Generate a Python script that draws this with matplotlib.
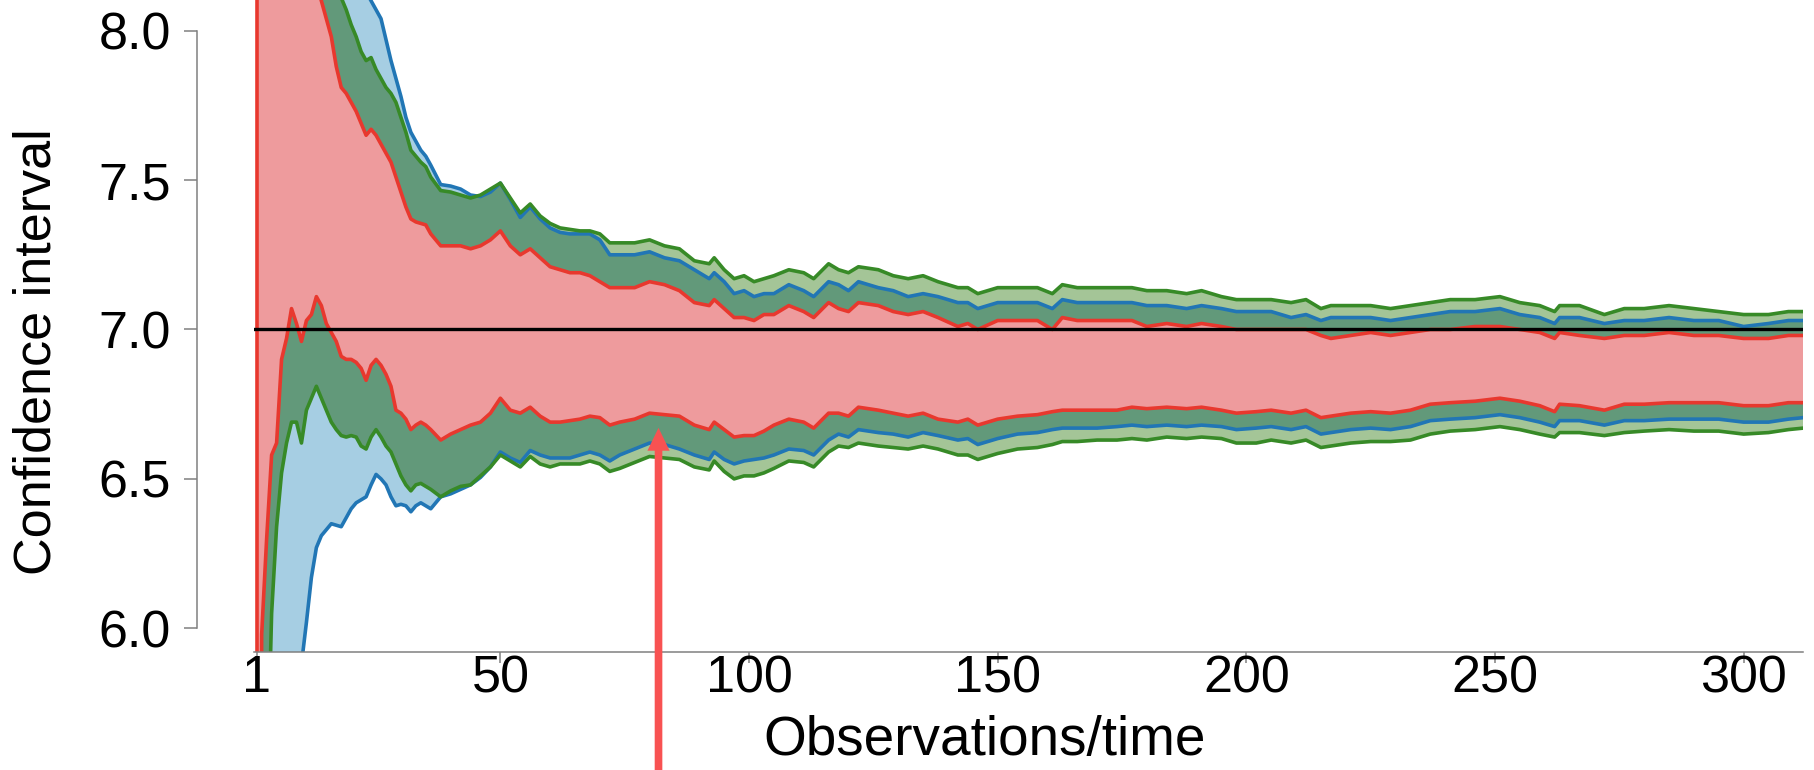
import numpy as np
import matplotlib
matplotlib.use("Agg")
import matplotlib.pyplot as plt
import matplotlib.transforms as mtransforms

plt.rcParams['font.family'] = ['Liberation Sans', 'DejaVu Sans']

# ---------------- data ----------------
t = [1, 2, 3, 4, 5, 6, 7, 8, 9, 10, 11, 12, 13, 14, 15, 16, 17, 18, 19, 20,
     21, 22, 23, 24, 25, 26, 27, 28, 29, 30, 31, 32, 33, 34, 35, 36,
     38, 40, 42, 44, 46, 48, 50, 52, 54, 56, 58, 60, 62, 64, 66, 68, 70, 72, 74,
     77, 80, 83, 86, 89, 92, 93, 95, 97, 99, 101, 103, 105,
     108, 111, 113, 116, 118, 120, 122, 126, 129, 132, 135, 138, 142, 144, 146,
     150, 154, 158, 161, 163, 166, 170, 174, 177, 180, 184, 188, 191, 195, 198,
     202, 205, 209, 212, 215, 217, 221, 225, 229, 233, 237, 241, 246, 251, 255,
     259, 262, 263, 267, 272, 276, 280, 285, 290, 295, 300, 305, 309, 312]

red_upper = [13.0, 10.5, 9.8, 9.4, 9.1, 8.9, 8.75, 8.6, 8.5, 8.4, 8.3, 8.22, 8.16, 8.10, 8.04, 7.98, 7.88, 7.81, 7.79, 7.76,
             7.73, 7.69, 7.65, 7.67, 7.65, 7.62, 7.59, 7.56, 7.51, 7.46, 7.41, 7.37, 7.36, 7.355, 7.35, 7.32,
             7.28, 7.28, 7.28, 7.27, 7.28, 7.30, 7.33, 7.28, 7.25, 7.27, 7.24, 7.21, 7.20, 7.19, 7.19, 7.18, 7.16, 7.14, 7.14,
             7.14, 7.16, 7.15, 7.13, 7.09, 7.08, 7.10, 7.07, 7.04, 7.04, 7.03, 7.05, 7.05,
             7.08, 7.06, 7.04, 7.09, 7.07, 7.06, 7.09, 7.08, 7.06, 7.05, 7.06, 7.04, 7.01, 7.02, 7.00,
             7.03, 7.03, 7.03, 7.00, 7.04, 7.03, 7.03, 7.03, 7.03, 7.01, 7.02, 7.01, 7.02, 7.01, 7.00,
             7.00, 7.00, 7.00, 7.00, 6.98, 6.97, 6.98, 6.99, 6.98, 6.99, 7.00, 7.00, 7.01, 7.01, 7.00,
             6.99, 6.97, 6.99, 6.98, 6.97, 6.98, 6.98, 6.99, 6.98, 6.98, 6.97, 6.97, 6.98, 6.98]

red_lower = [1.0, 5.98, 6.30, 6.58, 6.62, 6.90, 6.97, 7.07, 7.02, 6.96, 7.03, 7.05, 7.11, 7.08, 7.02, 6.99, 6.96, 6.91, 6.90, 6.90,
             6.89, 6.87, 6.83, 6.88, 6.90, 6.88, 6.85, 6.81, 6.73, 6.72, 6.70, 6.665, 6.68, 6.69, 6.68, 6.665,
             6.63, 6.65, 6.665, 6.68, 6.69, 6.72, 6.77, 6.73, 6.72, 6.74, 6.71, 6.69, 6.69, 6.695, 6.70, 6.71, 6.705, 6.68, 6.69,
             6.70, 6.72, 6.715, 6.71, 6.68, 6.665, 6.69, 6.665, 6.64, 6.645, 6.645, 6.66, 6.68,
             6.70, 6.69, 6.67, 6.72, 6.72, 6.71, 6.74, 6.73, 6.72, 6.71, 6.72, 6.70, 6.69, 6.70, 6.68,
             6.70, 6.71, 6.715, 6.725, 6.73, 6.73, 6.73, 6.73, 6.74, 6.735, 6.74, 6.735, 6.74, 6.73, 6.72,
             6.725, 6.73, 6.72, 6.73, 6.705, 6.71, 6.72, 6.725, 6.72, 6.73, 6.75, 6.755, 6.76, 6.77, 6.76,
             6.745, 6.725, 6.75, 6.745, 6.73, 6.75, 6.75, 6.755, 6.755, 6.755, 6.745, 6.745, 6.755, 6.755]

green_upper = [13.0, 10.8, 10.0, 9.6, 9.3, 9.1, 8.95, 8.8, 8.7, 8.6, 8.5, 8.42, 8.35, 8.3, 8.25, 8.2, 8.15, 8.11, 8.07, 8.02,
               7.98, 7.93, 7.90, 7.91, 7.87, 7.84, 7.81, 7.79, 7.76, 7.71, 7.66, 7.60, 7.58, 7.56, 7.545, 7.51,
               7.465, 7.46, 7.45, 7.44, 7.45, 7.47, 7.49, 7.44, 7.39, 7.42, 7.38, 7.355, 7.34, 7.335, 7.33, 7.33, 7.32, 7.29, 7.29,
               7.29, 7.30, 7.28, 7.27, 7.23, 7.22, 7.24, 7.20, 7.17, 7.18, 7.16, 7.17, 7.18,
               7.20, 7.19, 7.17, 7.22, 7.20, 7.19, 7.21, 7.20, 7.18, 7.17, 7.18, 7.16, 7.14, 7.14, 7.12,
               7.14, 7.14, 7.14, 7.12, 7.15, 7.14, 7.14, 7.14, 7.14, 7.13, 7.13, 7.12, 7.13, 7.11, 7.10,
               7.10, 7.10, 7.09, 7.10, 7.07, 7.08, 7.08, 7.08, 7.07, 7.08, 7.09, 7.10, 7.10, 7.11, 7.09,
               7.08, 7.06, 7.08, 7.08, 7.05, 7.07, 7.07, 7.08, 7.07, 7.06, 7.05, 7.05, 7.06, 7.06]

green_lower = [1.0, 4.5, 5.4, 6.05, 6.34, 6.52, 6.62, 6.69, 6.69, 6.62, 6.73, 6.77, 6.81, 6.77, 6.73, 6.69, 6.665, 6.645, 6.64, 6.645,
               6.64, 6.61, 6.60, 6.64, 6.665, 6.64, 6.61, 6.59, 6.55, 6.51, 6.48, 6.46, 6.48, 6.485, 6.475, 6.465,
               6.44, 6.46, 6.475, 6.48, 6.51, 6.54, 6.58, 6.56, 6.54, 6.575, 6.55, 6.54, 6.55, 6.55, 6.55, 6.56, 6.55, 6.525, 6.535,
               6.555, 6.575, 6.57, 6.565, 6.54, 6.53, 6.56, 6.525, 6.50, 6.51, 6.51, 6.52, 6.535,
               6.56, 6.555, 6.54, 6.59, 6.61, 6.605, 6.62, 6.61, 6.605, 6.60, 6.61, 6.60, 6.58, 6.58, 6.565,
               6.585, 6.60, 6.605, 6.615, 6.625, 6.625, 6.63, 6.63, 6.635, 6.63, 6.64, 6.635, 6.64, 6.635, 6.62,
               6.62, 6.63, 6.62, 6.63, 6.605, 6.61, 6.62, 6.625, 6.625, 6.63, 6.65, 6.66, 6.665, 6.675, 6.665,
               6.65, 6.64, 6.655, 6.655, 6.645, 6.655, 6.66, 6.665, 6.66, 6.66, 6.65, 6.655, 6.665, 6.67]

blue_upper = [14.0, 11.5, 10.6, 10.1, 9.7, 9.45, 9.25, 9.1, 8.95, 8.85, 8.75, 8.67, 8.6, 8.53, 8.47, 8.42, 8.37, 8.32, 8.28, 8.24,
              8.20, 8.16, 8.13, 8.10, 8.07, 8.04, 7.97, 7.90, 7.84, 7.78, 7.71, 7.66, 7.63, 7.60, 7.58, 7.55,
              7.485, 7.48, 7.47, 7.45, 7.445, 7.46, 7.49, 7.435, 7.375, 7.41, 7.37, 7.34, 7.325, 7.32, 7.32, 7.32, 7.30, 7.25, 7.25,
              7.25, 7.26, 7.24, 7.23, 7.20, 7.17, 7.19, 7.16, 7.12, 7.13, 7.11, 7.12, 7.12,
              7.15, 7.13, 7.11, 7.16, 7.15, 7.13, 7.16, 7.14, 7.13, 7.11, 7.12, 7.11, 7.09, 7.09, 7.07,
              7.09, 7.09, 7.09, 7.07, 7.10, 7.09, 7.09, 7.09, 7.09, 7.08, 7.08, 7.07, 7.08, 7.07, 7.06,
              7.06, 7.06, 7.04, 7.05, 7.03, 7.04, 7.04, 7.04, 7.03, 7.04, 7.05, 7.06, 7.06, 7.07, 7.05,
              7.04, 7.02, 7.04, 7.04, 7.02, 7.03, 7.03, 7.04, 7.03, 7.03, 7.01, 7.02, 7.03, 7.03]

blue_lower = [0.5, 3.0, 4.0, 4.6, 5.0, 5.3, 5.5, 5.65, 5.78, 5.88, 6.02, 6.17, 6.27, 6.31, 6.33, 6.35, 6.345, 6.34, 6.37, 6.40,
              6.42, 6.43, 6.44, 6.48, 6.515, 6.50, 6.48, 6.44, 6.41, 6.415, 6.41, 6.39, 6.41, 6.42, 6.41, 6.40,
              6.44, 6.45, 6.465, 6.48, 6.505, 6.54, 6.59, 6.57, 6.555, 6.595, 6.58, 6.57, 6.57, 6.57, 6.58, 6.59, 6.58, 6.56, 6.58,
              6.60, 6.62, 6.615, 6.60, 6.58, 6.565, 6.59, 6.565, 6.55, 6.56, 6.565, 6.57, 6.58,
              6.60, 6.595, 6.58, 6.63, 6.65, 6.64, 6.665, 6.655, 6.65, 6.64, 6.655, 6.645, 6.63, 6.635, 6.615,
              6.635, 6.65, 6.655, 6.665, 6.67, 6.67, 6.67, 6.675, 6.68, 6.675, 6.68, 6.675, 6.68, 6.675, 6.665,
              6.67, 6.675, 6.665, 6.675, 6.65, 6.655, 6.665, 6.67, 6.665, 6.675, 6.695, 6.70, 6.705, 6.715, 6.705,
              6.69, 6.675, 6.695, 6.695, 6.68, 6.695, 6.695, 6.70, 6.70, 6.70, 6.69, 6.69, 6.70, 6.705]

true_value = 7.0
arrow_t = 81.8
arrow_tip = 6.671

x_ticks = [1, 50, 100, 150, 200, 250, 300]
y_ticks = [6.0, 6.5, 7.0, 7.5, 8.0]
y_ticklabels = ['6.0', '6.5', '7.0', '7.5', '8.0']
x_label = 'Observations/time'
y_label = 'Confidence interval'

# ---------------- styling ----------------
PINK = '#EE9B9D'
LIGHT_BLUE = '#A6CEE3'
DARK_GREEN = '#62997A'
LIGHT_GREEN = '#A4C597'
RED_LINE = '#E8382E'
GREEN_LINE = '#378A27'
BLUE_LINE = '#2176B5'
ARROW = '#F85252'
AXIS_GRAY = '#808080'

W, H, DPI = 1814, 770, 100
fig = plt.figure(figsize=(W / DPI, H / DPI), dpi=DPI)
ax_left, ax_right, ax_bottom = 254.0, 1803.3, 652.3
ax = fig.add_axes([ax_left / W, (H - ax_bottom) / H, (ax_right - ax_left) / W, ax_bottom / H])
ax.set_xlim(0.457, 312.0)
ax.set_ylim(5.9197, 8.1027)

tt = np.array(t, dtype=float)
ru, rl = np.array(red_upper), np.array(red_lower)
gu, gl = np.array(green_upper), np.array(green_lower)
bu, bl = np.array(blue_upper), np.array(blue_lower)

# fills
ax.fill_between(tt, gl, gu, color=LIGHT_GREEN, lw=0, zorder=1)
ax.fill_between(tt, bl, bu, color=LIGHT_BLUE, lw=0, zorder=1.1)
lo = np.maximum(gl, bl)
hi = np.minimum(gu, bu)
ax.fill_between(tt, lo, hi, where=hi > lo, interpolate=True, color=DARK_GREEN, lw=0, zorder=1.2)
ax.fill_between(tt, rl, ru, color=PINK, lw=0, zorder=1.3)

# boundary lines
lw = 2.6
for up, low, c, z in [(bu, bl, BLUE_LINE, 2), (gu, gl, GREEN_LINE, 2.1), (ru, rl, RED_LINE, 2.2)]:
    ax.plot(tt, up, color=c, lw=lw, zorder=z, solid_joinstyle='round')
    ax.plot(tt, low, color=c, lw=lw, zorder=z, solid_joinstyle='round')
ax.plot([tt[0], tt[0]], [rl[0], ru[0]], color=RED_LINE, lw=lw, zorder=2.2)

# true value line
ax.axhline(true_value, color='black', lw=2.4, zorder=3)

# arrow from the bottom of the figure up to the red lower bound region
blend = mtransforms.blended_transform_factory(ax.transData, fig.transFigure)
ax.annotate('', xy=(arrow_t, arrow_tip), xycoords='data',
            xytext=(arrow_t, 0.0), textcoords=blend,
            arrowprops=dict(width=5.5, headwidth=16, headlength=16.5, shrink=0.0,
                            facecolor=ARROW, edgecolor=ARROW, lw=0),
            annotation_clip=False, zorder=5)

# axes styling
for s in ['top', 'right']:
    ax.spines[s].set_visible(False)
ax.spines['left'].set_position(('outward', 41.3))
ax.spines['left'].set_bounds(6.0, 8.0)
for s in ['left', 'bottom']:
    ax.spines[s].set_color(AXIS_GRAY)
    ax.spines[s].set_linewidth(1.1)
    ax.spines[s].set_zorder(4)

ax.set_xticks(x_ticks)
ax.set_xticklabels([str(v) for v in x_ticks])
ax.set_yticks(y_ticks)
ax.set_yticklabels(y_ticklabels)
ax.tick_params(axis='x', length=8, width=1.1, color=AXIS_GRAY, labelsize=37.5, pad=-6.5, direction='out')
ax.tick_params(axis='y', length=9.5, width=1.1, color=AXIS_GRAY, labelsize=37.5, pad=9.0, direction='out')

fig.text(985.0 / W, 15.0 / H, x_label, ha='center', va='baseline', fontsize=39.5)
fig.text(37.0 / W, (H - 352.0) / H, y_label, ha='center', va='center', rotation=90, fontsize=37.5)

fig.savefig('out.png', dpi=DPI)
